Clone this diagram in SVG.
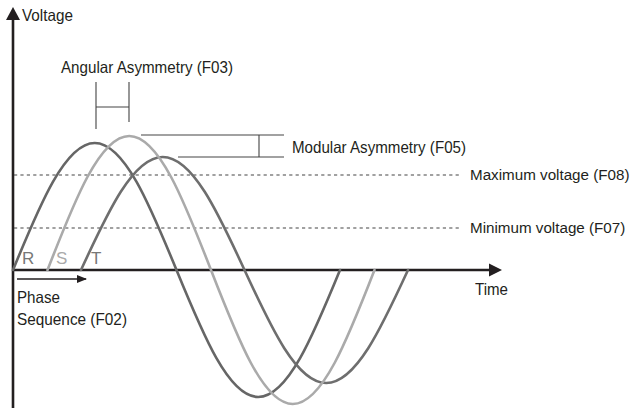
<svg xmlns="http://www.w3.org/2000/svg" width="631" height="408" viewBox="0 0 631 408">
<defs>
<style>
text{font-family:"Liberation Sans",Arial,sans-serif;font-size:16.5px;fill:#231f20}
.wave{fill:none;stroke-width:2.6;stroke-linecap:round}
.dash{stroke:#444;stroke-width:1.2;stroke-dasharray:3.2 3.2;fill:none}
.br{stroke:#444;stroke-width:1.1;fill:none}
.axis{stroke:#231f20;fill:none}
.ph{font-size:17px}
.lv{font-size:15.2px}
</style>
<marker id="ah" viewBox="0 0 10 10" refX="9" refY="5" markerWidth="10" markerHeight="10" markerUnits="userSpaceOnUse" orient="auto">
<path d="M0,1 L10,5 L0,9 Z" fill="#231f20"/>
</marker>
</defs>
<rect width="631" height="408" fill="#fff"/>
<g id="axes">
<line class="axis" x1="13" y1="408" x2="13" y2="19" stroke-width="2.6"/>
<path d="M13,7 L20,20 L6,20 Z" fill="#231f20"/>
<line class="axis" x1="12" y1="270" x2="491" y2="270" stroke-width="2.6"/>
<path d="M502,270 L489,263.5 L489,276.5 Z" fill="#231f20"/>
</g>
<g id="levels">
<line class="dash" x1="14" y1="175" x2="462" y2="175"/>
<line class="dash" x1="14" y1="228" x2="462" y2="228"/>
</g>
<g id="waves">
<path id="wave-R" class="wave" stroke="#666" d="M13,270 C39.66,204.94 65.16,143 94.75,143 C124.34,143 149.84,204.94 176.5,270 C203.16,335.06 228.66,397 258.25,397 C287.84,397 313.34,335.06 340,270"/>
<path id="wave-T" class="wave" stroke="#6e6e6e" d="M81,270 C107.66,212.11 133.16,157 162.75,157 C192.34,157 217.84,212.11 244.5,270 C271.16,327.89 296.66,383 326.25,383 C355.84,383 381.34,327.89 408,270"/>
<path id="wave-S" class="wave" stroke="#aaa" d="M47.5,270 C74.16,201.35 99.66,136 129.25,136 C158.84,136 184.34,201.35 211,270 C237.66,338.65 263.16,404 292.75,404 C322.34,404 347.84,338.65 374.5,270"/>
</g>
<g id="connectors">
<path class="br" d="M96,82 V129 M129,82 V122 M96,107 H129"/>
<path class="br" d="M141,135 H284 M178,157 H284 M259,135 V157"/>
<line x1="17" y1="279" x2="86" y2="279" stroke="#231f20" stroke-width="1.3" marker-end="url(#ah)"/>
</g>
<g id="labels">
<text x="22" y="21" textLength="51" lengthAdjust="spacingAndGlyphs">Voltage</text>
<text x="61" y="73" textLength="172" lengthAdjust="spacingAndGlyphs">Angular Asymmetry (F03)</text>
<text x="292" y="153" textLength="174" lengthAdjust="spacingAndGlyphs">Modular Asymmetry (F05)</text>
<text class="lv" x="470" y="180">Maximum voltage (F08)</text>
<text class="lv" x="470" y="233">Minimum voltage (F07)</text>
<text x="475" y="295" textLength="33" lengthAdjust="spacingAndGlyphs">Time</text>
<text x="17" y="303" textLength="43" lengthAdjust="spacingAndGlyphs">Phase</text>
<text x="17" y="325" textLength="110" lengthAdjust="spacingAndGlyphs">Sequence (F02)</text>
<text class="ph" x="22" y="264" style="fill:#777">R</text>
<text class="ph" x="56" y="264" style="fill:#aaa">S</text>
<text class="ph" x="91" y="264" style="fill:#777">T</text>
</g>
</svg>
